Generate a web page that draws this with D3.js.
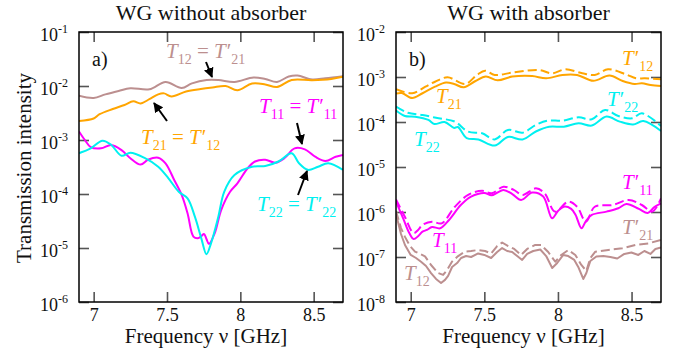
<!DOCTYPE html>
<html>
<head>
<meta charset="utf-8">
<script src="https://cdn.jsdelivr.net/npm/d3@7"></script>
<style>
  body { margin: 0; background: #fff; }
  text { font-family: "Liberation Serif", "Times New Roman", serif; }
</style>
</head>
<body>
<svg id="chart" width="688" height="354"></svg>
<script>
// ---- data: [frequency GHz, transmission intensity] ----
// panel a) WG without absorber
const t12Open = [[6.90,6.6e-3],[7.00,6.0e-3],[7.08,7.0e-3],[7.17,8.1e-3],[7.25,9.1e-3],[7.38,8.7e-3],[7.49,1.19e-2],[7.60,9.2e-3],[7.67,1.12e-2],[7.77,1.29e-2],[7.85,1.29e-2],[7.96,1.19e-2],[8.09,1.44e-2],[8.17,1.35e-2],[8.25,1.19e-2],[8.33,1.50e-2],[8.39,1.56e-2],[8.49,1.32e-2],[8.58,1.39e-2],[8.70,1.52e-2]];
const t21Open = [[6.90,2.25e-3],[7.00,2.5e-3],[7.04,3.0e-3],[7.13,3.75e-3],[7.21,4.45e-3],[7.27,5.2e-3],[7.32,4.75e-3],[7.38,5.7e-3],[7.44,7.0e-3],[7.48,7.3e-3],[7.53,6.4e-3],[7.63,7.9e-3],[7.73,8.8e-3],[7.81,9.4e-3],[7.90,1.0e-2],[7.98,8.3e-3],[8.08,1.11e-2],[8.17,1.07e-2],[8.25,9.6e-3],[8.35,1.29e-2],[8.49,1.28e-2],[8.62,1.35e-2],[8.70,1.48e-2]];
const t11Open = [[6.90,1.44e-3],[6.94,1.0e-3],[6.98,7.4e-4],[7.05,7.0e-4],[7.12,8.1e-4],[7.19,6.5e-4],[7.25,4.6e-4],[7.32,3.5e-4],[7.37,4.3e-4],[7.44,4.7e-4],[7.49,3.7e-4],[7.55,1.8e-4],[7.60,9.6e-5],[7.64,4.4e-5],[7.68,1.63e-5],[7.71,1.51e-5],[7.735,1.67e-5],[7.752,1.82e-5],[7.769,1.47e-5],[7.786,1.19e-5],[7.825,1.87e-5],[7.87,5.1e-5],[7.93,1.10e-4],[7.98,1.58e-4],[8.05,3.0e-4],[8.10,4.0e-4],[8.17,4.3e-4],[8.24,3.8e-4],[8.30,4.6e-4],[8.37,7.0e-4],[8.44,6.7e-4],[8.51,4.9e-4],[8.58,4.1e-4],[8.65,4.9e-4],[8.70,5.3e-4]];
const t22Open = [[6.90,5.7e-4],[6.98,7.0e-4],[7.06,9.7e-4],[7.12,8.1e-4],[7.19,5.1e-4],[7.25,5.8e-4],[7.35,4.6e-4],[7.44,3.2e-4],[7.51,1.95e-4],[7.58,1.10e-4],[7.64,8.3e-5],[7.69,3.8e-5],[7.734,1.51e-5],[7.769,7.7e-6],[7.80,1.22e-5],[7.85,3.8e-5],[7.89,1.10e-4],[7.96,2.25e-4],[8.08,3.2e-4],[8.17,3.3e-4],[8.26,4.0e-4],[8.35,5.7e-4],[8.40,3.7e-4],[8.46,2.8e-4],[8.53,3.2e-4],[8.60,3.7e-4],[8.70,2.8e-4]];

// panel b) WG with absorber (solid = unprimed, dashed = primed)
const t21Abs = [[6.90,4.3e-4],[6.94,4.4e-4],[7.01,3.4e-4],[7.08,4.35e-4],[7.165,6.1e-4],[7.24,7.55e-4],[7.295,7.0e-4],[7.36,5.9e-4],[7.44,8.15e-4],[7.51,1.03e-3],[7.59,8.45e-4],[7.69,1.02e-3],[7.825,1.05e-3],[7.92,9.35e-4],[8.03,1.11e-3],[8.13,1.11e-3],[8.24,8.25e-4],[8.35,1.08e-3],[8.44,8.15e-4],[8.52,7.0e-4],[8.57,7.25e-4],[8.63,6.65e-4],[8.70,6.3e-4]];
const t12pAbs = [[6.90,5.35e-4],[7.01,4.35e-4],[7.10,6.1e-4],[7.165,7.85e-4],[7.25,9.85e-4],[7.37,7.0e-4],[7.45,1.11e-3],[7.505,1.38e-3],[7.57,1.11e-3],[7.69,1.25e-3],[7.87,1.43e-3],[7.96,1.21e-3],[8.05,1.48e-3],[8.165,1.21e-3],[8.25,1.11e-3],[8.34,1.48e-3],[8.46,1.15e-3],[8.53,9.35e-4],[8.59,9.35e-4],[8.70,8.9e-4]];
const t22Abs = [[6.90,1.80e-4],[6.96,1.36e-4],[7.03,1.31e-4],[7.12,1.11e-4],[7.16,9.0e-5],[7.23,1.0e-4],[7.295,7.35e-5],[7.32,7.75e-5],[7.38,4.4e-5],[7.46,4.1e-5],[7.57,3.0e-5],[7.66,4.65e-5],[7.76,4.1e-5],[7.85,6.15e-5],[7.94,7.85e-5],[8.04,7.85e-5],[8.14,9.35e-5],[8.23,8.35e-5],[8.33,1.32e-4],[8.42,1.02e-4],[8.51,8.8e-5],[8.58,1.05e-4],[8.70,6.3e-5]];
const t22pAbs = [[6.90,2.2e-4],[6.98,1.61e-4],[7.08,1.43e-4],[7.19,1.21e-4],[7.30,1.02e-4],[7.39,6.1e-5],[7.485,5.6e-5],[7.57,4.1e-5],[7.66,6.65e-5],[7.76,5.8e-5],[7.85,8.6e-5],[7.93,1.07e-4],[8.03,1.07e-4],[8.14,1.27e-4],[8.23,1.15e-4],[8.32,1.85e-4],[8.41,1.36e-4],[8.505,1.21e-4],[8.57,1.56e-4],[8.70,8.15e-5]];
const t11Abs = [[6.90,1.71e-6],[6.95,7.0e-7],[6.99,3.4e-7],[7.02,2.5e-7],[7.05,2.9e-7],[7.08,3.65e-7],[7.11,4.0e-7],[7.145,4.65e-7],[7.20,4.35e-7],[7.26,6.65e-7],[7.34,1.43e-6],[7.41,2.2e-6],[7.50,2.65e-6],[7.55,2.35e-6],[7.63,3.1e-6],[7.69,2.5e-6],[7.75,1.85e-6],[7.825,2.7e-6],[7.90,2.2e-6],[7.96,7.25e-7],[8.00,1.05e-6],[8.04,1.31e-6],[8.09,1.17e-6],[8.12,8.6e-7],[8.16,4.35e-7],[8.19,6.3e-7],[8.23,8.6e-7],[8.33,1.02e-6],[8.41,1.21e-6],[8.465,1.51e-6],[8.55,1.17e-6],[8.61,9.5e-7],[8.655,1.29e-6],[8.70,1.56e-6]];
const t11pAbs = [[6.90,1.9e-6],[6.96,7.85e-7],[7.02,3.4e-7],[7.05,4.0e-7],[7.08,5.15e-7],[7.145,6.1e-7],[7.21,5.6e-7],[7.30,1.31e-6],[7.39,2.4e-6],[7.485,2.95e-6],[7.55,2.6e-6],[7.63,3.65e-6],[7.70,3.1e-6],[7.76,2.4e-6],[7.85,3.35e-6],[7.91,2.6e-6],[7.98,1.02e-6],[8.07,1.69e-6],[8.13,1.31e-6],[8.19,6.1e-7],[8.25,1.31e-6],[8.37,1.43e-6],[8.48,1.85e-6],[8.57,1.43e-6],[8.64,1.02e-6],[8.70,2.0e-6]];
const t12Abs = [[6.90,9.0e-7],[6.934,3.25e-7],[6.961,1.85e-7],[7.00,1.11e-7],[7.036,9.5e-8],[7.07,7.85e-8],[7.104,6.3e-8],[7.138,4.4e-8],[7.172,3.25e-8],[7.206,2.65e-8],[7.233,3.1e-8],[7.254,3.8e-8],[7.281,6.0e-8],[7.315,7.35e-8],[7.342,9.5e-8],[7.376,1.05e-7],[7.41,1.0e-7],[7.458,1.2e-7],[7.50,1.11e-7],[7.546,9.5e-8],[7.587,1.29e-7],[7.621,1.58e-7],[7.655,1.36e-7],[7.689,1.29e-7],[7.723,1.05e-7],[7.757,8.6e-8],[7.791,1.17e-7],[7.832,1.36e-7],[7.88,1.47e-7],[7.92,1.05e-7],[7.961,5.7e-8],[7.995,7.35e-8],[8.036,1.11e-7],[8.07,1.05e-7],[8.111,8.6e-8],[8.138,6.0e-8],[8.172,3.25e-8],[8.193,4.4e-8],[8.22,8.15e-8],[8.261,1.03e-7],[8.308,1.05e-7],[8.356,1.0e-7],[8.403,9.25e-8],[8.451,1.17e-7],[8.499,1.26e-7],[8.546,1.11e-7],[8.587,1.36e-7],[8.628,1.17e-7],[8.662,1.51e-7],[8.70,1.63e-7]];
const t21pAbs = [[6.90,1.05e-6],[6.934,4.4e-7],[6.961,2.8e-7],[6.995,1.75e-7],[7.029,1.32e-7],[7.063,1.17e-7],[7.097,1.03e-7],[7.138,6.65e-8],[7.186,4.4e-8],[7.22,4.0e-8],[7.247,5.15e-8],[7.281,7.9e-8],[7.322,1.05e-7],[7.369,1.32e-7],[7.41,1.36e-7],[7.458,1.43e-7],[7.505,1.36e-7],[7.546,1.2e-7],[7.587,1.75e-7],[7.621,2.1e-7],[7.662,1.75e-7],[7.703,1.51e-7],[7.75,1.11e-7],[7.791,1.51e-7],[7.846,1.85e-7],[7.886,1.85e-7],[7.934,1.29e-7],[7.982,7.85e-8],[8.022,1.11e-7],[8.07,1.43e-7],[8.118,1.11e-7],[8.159,6.65e-8],[8.193,4.9e-8],[8.22,9.5e-8],[8.254,1.31e-7],[8.342,1.43e-7],[8.437,1.56e-7],[8.526,1.85e-7],[8.614,2.0e-7],[8.70,2.4e-7]];

const freqTicks = [7, 7.5, 8, 8.5];
const yTicksOpen = [1e-6, 1e-5, 1e-4, 1e-3, 1e-2, 1e-1];
const yTicksAbs = [1e-8, 1e-7, 1e-6, 1e-5, 1e-4, 1e-3, 1e-2];

const BROWN = '#bc8f8f', ORANGE = '#ffa500', MAGENTA = '#ff00ff', CYAN = '#00f0f0';

const svg = d3.select('#chart');

svg.append('defs').append('marker')
  .attr('id', 'arrowhead')
  .attr('viewBox', '0 0 10 10')
  .attr('refX', 9).attr('refY', 5)
  .attr('markerWidth', 5).attr('markerHeight', 5)
  .attr('orient', 'auto')
  .append('path').attr('d', 'M0,0 L10,5 L0,10 z').attr('fill', '#000');

// label: italic T, upright prime, lowered subscript
function label(g, x, y, color, parts) {
  const t = g.append('text').attr('x', x).attr('y', y)
    .attr('fill', color).style('font-size', '21px');
  let shift = 0;
  parts.forEach(([s, kind]) => {
    const ts = t.append('tspan').text(s);
    const target = kind === 's' ? 6 : 0;
    if (target !== shift) { ts.attr('dy', target - shift); shift = target; }
    if (kind === 'i') ts.style('font-style', 'italic');
    if (kind === 's') ts.style('font-size', '14px');
    if (kind === 'p') ts.style('font-size', '21px').attr('dx', 1);
  });
}

function drawPanel(opt) {
  const { left, right, top, bottom } = opt;
  const x = d3.scaleLinear().domain([6.9, 8.7]).range([left, right]);
  const y = d3.scaleLog().domain(opt.yDomain).range([bottom, top]);
  const g = svg.append('g');

  // inward ticks on all four sides
  const tickStyle = sel => {
    sel.select('.domain').remove();
    sel.selectAll('.tick line').attr('stroke', '#555').attr('stroke-width', 1.6);
  };
  const gx = g.append('g').attr('transform', `translate(0,${bottom})`)
    .call(d3.axisBottom(x).tickValues(freqTicks).tickSize(-10).tickSizeOuter(0).tickPadding(6).tickFormat(d3.format('')));
  gx.call(tickStyle);
  gx.selectAll('text').style('font-size', '18px').attr('fill', '#111')
    .attr('font-family', '"Liberation Serif", serif');
  g.append('g').attr('transform', `translate(0,${top})`)
    .call(d3.axisTop(x).tickValues(freqTicks).tickSize(-10).tickFormat(''))
    .call(tickStyle);

  const gy = g.append('g').attr('transform', `translate(${left},0)`)
    .call(d3.axisLeft(y).tickValues(opt.yTicks).tickSize(-10).tickPadding(11));
  gy.call(tickStyle);
  gy.selectAll('text').attr('dy', '0.45em').attr('fill', '#111')
    .attr('font-family', '"Liberation Serif", serif')
    .style('font-size', '18px')
    .each(function (d) {
      const t = d3.select(this).text('');
      t.append('tspan').text('10');
      t.append('tspan').attr('dy', -8).style('font-size', '12px').text(Math.round(Math.log10(d)));
    });
  g.append('g').attr('transform', `translate(${right},0)`)
    .call(d3.axisRight(y).tickValues(opt.yTicks).tickSize(-10).tickFormat(''))
    .call(tickStyle);

  // curves
  const clipId = 'clip-' + opt.tag[0];
  svg.append('clipPath').attr('id', clipId).append('rect')
    .attr('x', left).attr('y', top).attr('width', right - left).attr('height', bottom - top);
  const plot = g.append('g').attr('clip-path', `url(#${clipId})`);
  opt.series.forEach(s => {
    const line = d3.line()
      .x(d => x(d[0])).y(d => y(d[1]))
      .curve(s.jagged ? d3.curveLinear : d3.curveCatmullRom.alpha(0.5));
    plot.append('path').datum(s.data)
      .attr('d', line)
      .attr('fill', 'none')
      .attr('stroke', s.color)
      .attr('stroke-width', 2)
      .attr('stroke-linejoin', 'round')
      .attr('stroke-dasharray', s.dashed ? '9,4' : null);
  });

  // frame
  g.append('rect').attr('x', left).attr('y', top)
    .attr('width', right - left).attr('height', bottom - top)
    .attr('fill', 'none').attr('stroke', '#000').attr('stroke-width', 1.5);

  // title, tag, axis label
  g.append('text').attr('x', (left + right) / 2).attr('y', 20)
    .attr('text-anchor', 'middle').style('font-size', '22px').attr('fill', '#111')
    .text(opt.title);
  g.append('text').attr('x', left + 13).attr('y', 66)
    .style('font-size', '20px').attr('fill', '#111').text(opt.tag);
  g.append('text').attr('x', (left + right) / 2 - 5).attr('y', 343)
    .attr('text-anchor', 'middle').style('font-size', '21px').attr('fill', '#111')
    .text('Frequency ν [GHz]');

  opt.labels.forEach(l => label(g, l.x, l.y, l.color, l.parts));
  (opt.arrows || []).forEach(a => {
    g.append('line').attr('x1', a[0]).attr('y1', a[1]).attr('x2', a[2]).attr('y2', a[3])
      .attr('stroke', '#000').attr('stroke-width', 2).attr('marker-end', 'url(#arrowhead)');
  });
}

const eq = (a, b) => [['T', 'i'], [a, 's'], [' = ', 'n'], ['T', 'i'], ['\u2032', 'p'], [b, 's']];
const plain = a => [['T', 'i'], [a, 's']];
const primed = a => [['T', 'i'], ['\u2032', 'p'], [a, 's']];

drawPanel({
  left: 79, right: 343, top: 32, bottom: 302,
  yDomain: [1e-6, 1e-1], yTicks: yTicksOpen,
  title: 'WG without absorber', tag: 'a)',
  series: [
    { data: t12Open, color: BROWN },
    { data: t21Open, color: ORANGE },
    { data: t11Open, color: MAGENTA },
    { data: t22Open, color: CYAN }
  ],
  labels: [
    { x: 166, y: 58, color: BROWN, parts: eq('12', '21') },
    { x: 141, y: 144, color: ORANGE, parts: eq('21', '12') },
    { x: 259, y: 113, color: MAGENTA, parts: eq('11', '11') },
    { x: 257, y: 211, color: CYAN, parts: eq('22', '22') }
  ],
  arrows: [[206, 62, 212, 77], [167, 121, 154, 103], [297, 123, 302, 144], [298, 195, 307, 171]]
});

drawPanel({
  left: 396, right: 661, top: 32, bottom: 302,
  yDomain: [1e-8, 1e-2], yTicks: yTicksAbs,
  title: 'WG with absorber', tag: 'b)',
  series: [
    { data: t21Abs, color: ORANGE },
    { data: t12pAbs, color: ORANGE, dashed: true },
    { data: t22Abs, color: CYAN },
    { data: t22pAbs, color: CYAN, dashed: true },
    { data: t11Abs, color: MAGENTA },
    { data: t11pAbs, color: MAGENTA, dashed: true },
    { data: t12Abs, color: BROWN, jagged: true },
    { data: t21pAbs, color: BROWN, dashed: true, jagged: true }
  ],
  labels: [
    { x: 622, y: 65, color: ORANGE, parts: primed('12') },
    { x: 436, y: 103, color: ORANGE, parts: plain('21') },
    { x: 607, y: 106, color: CYAN, parts: primed('22') },
    { x: 414, y: 146, color: CYAN, parts: plain('22') },
    { x: 622, y: 189, color: MAGENTA, parts: primed('11') },
    { x: 432, y: 247, color: MAGENTA, parts: plain('11') },
    { x: 622, y: 234, color: BROWN, parts: primed('21') },
    { x: 404, y: 280, color: BROWN, parts: plain('12') }
  ]
});

svg.append('text').attr('transform', 'translate(31,168) rotate(-90)')
  .attr('text-anchor', 'middle').style('font-size', '21px').attr('fill', '#111')
  .text('Transmission intensity');
</script>
</body>
</html>
